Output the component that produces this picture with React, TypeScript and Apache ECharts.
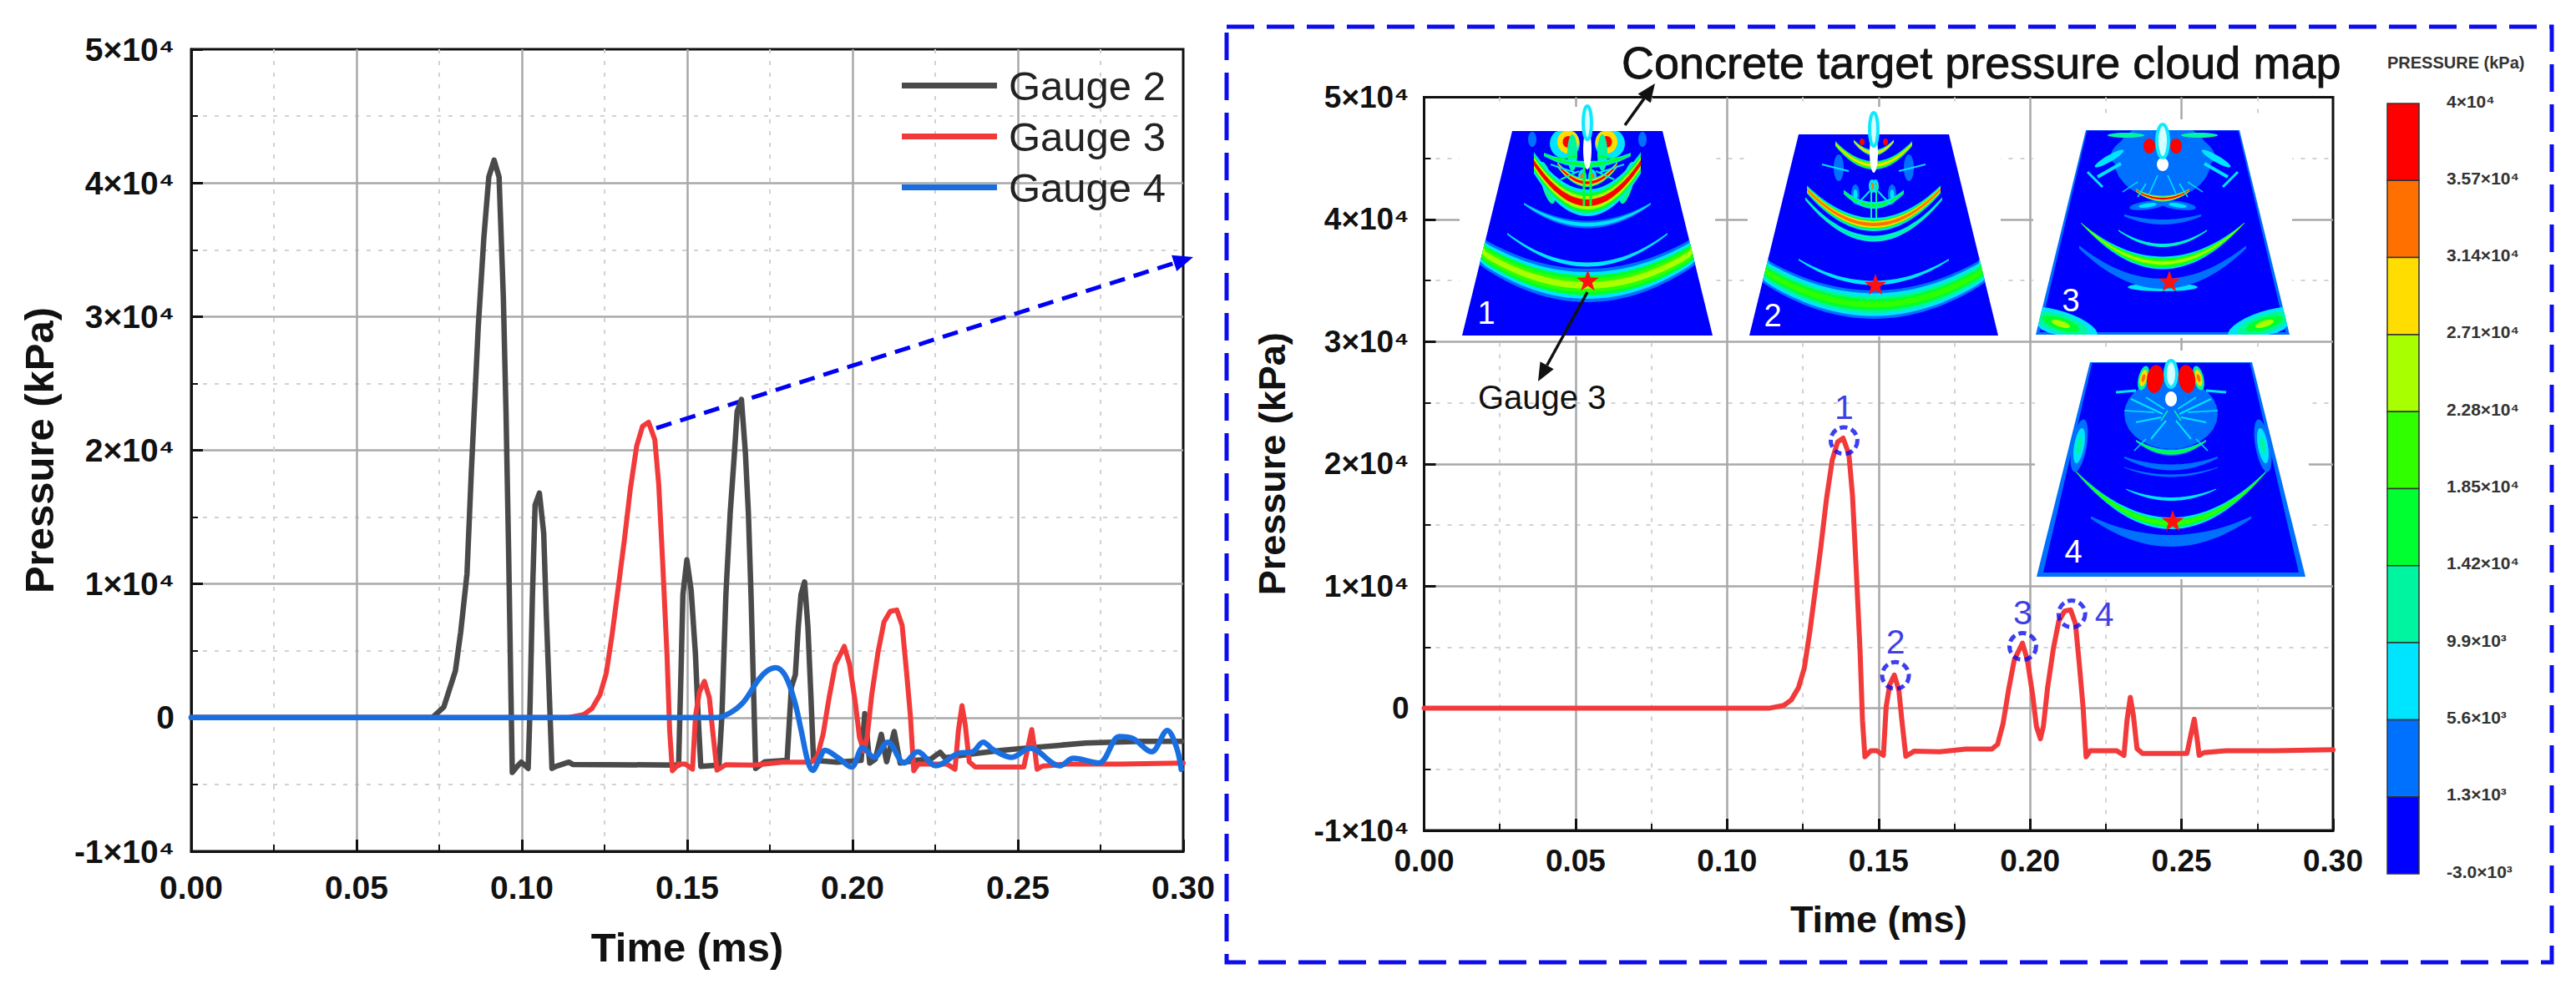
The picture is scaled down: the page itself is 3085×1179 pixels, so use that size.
import { useEffect, useRef } from "react";
import * as echarts from "echarts";

const FONT = "Liberation Sans";

const gauge2Time = [0, 0.0729, 0.0764, 0.0799, 0.0815, 0.0834, 0.0847, 0.0868, 0.0885, 0.09, 0.0916, 0.0931, 0.0944, 0.0952, 0.096, 0.0967, 0.0971, 0.0986, 0.0998, 0.1019, 0.1024, 0.1032, 0.104, 0.1053, 0.1066, 0.1074, 0.1083, 0.1091, 0.1104, 0.1142, 0.1154, 0.1474, 0.1481, 0.1487, 0.1499, 0.1512, 0.1525, 0.1533, 0.1541, 0.1596, 0.1605, 0.1617, 0.163, 0.1642, 0.1651, 0.1664, 0.1676, 0.1685, 0.1693, 0.1701, 0.1707, 0.1735, 0.1802, 0.1815, 0.1827, 0.1836, 0.1844, 0.1855, 0.1865, 0.1874, 0.1882, 0.1954, 0.2026, 0.2037, 0.2052, 0.2069, 0.2087, 0.2103, 0.2126, 0.2144, 0.219, 0.2237, 0.2265, 0.2279, 0.2368, 0.2452, 0.2537, 0.2621, 0.2705, 0.2789, 0.2873, 0.2995];
const gauge2Pressure = [0, 0, 800, 3500, 6400, 10760, 18300, 29200, 35900, 40450, 41700, 40450, 31400, 22900, 12300, 1700, -4100, -3640, -3330, -3800, 150, 9200, 15900, 16800, 13800, 7700, 1700, -3800, -3640, -3330, -3500, -3550, 3200, 9200, 11800, 9500, 4700, 150, -3640, -3550, 150, 9200, 15300, 19500, 22900, 23800, 19800, 15300, 9200, 1700, -3800, -3300, -3200, 2270, 3200, 6800, 9200, 10150, 6800, 1700, -3200, -3330, -3200, 300, -3400, -3100, -1250, -3300, -1040, -3400, -3200, -3100, -2600, -3000, -2700, -2450, -2250, -2080, -1900, -1830, -1770, -1770];

const gauge3Time = [0, 0.1138, 0.1187, 0.1212, 0.1236, 0.1255, 0.1273, 0.1291, 0.131, 0.1328, 0.1347, 0.1365, 0.1383, 0.1402, 0.1414, 0.1426, 0.1439, 0.1447, 0.1455, 0.1475, 0.1494, 0.1516, 0.1525, 0.1537, 0.1552, 0.1567, 0.1577, 0.159, 0.1617, 0.1702, 0.1788, 0.1874, 0.1893, 0.1911, 0.1929, 0.1948, 0.1975, 0.1991, 0.2009, 0.2021, 0.2034, 0.2044, 0.2058, 0.2077, 0.2095, 0.2114, 0.2134, 0.215, 0.2163, 0.2175, 0.2185, 0.2199, 0.2285, 0.231, 0.232, 0.2331, 0.2341, 0.2353, 0.2371, 0.2518, 0.2531, 0.2542, 0.2552, 0.2558, 0.2574, 0.2647, 0.2807, 0.3];
const gauge3Pressure = [0, 0, 230, 680, 1700, 3300, 6240, 9650, 13300, 17100, 20300, 21800, 22100, 20800, 17400, 11500, 4650, -1000, -3970, -3470, -3470, -3860, 110, 1930, 2720, 1480, -1000, -3930, -3520, -3560, -3340, -3340, -2950, -1250, 1480, 3970, 5330, 3970, 1020, -1480, -2500, -1480, 1700, 4880, 7150, 7950, 8050, 6900, 3500, 110, -3970, -3470, -3470, -3860, -1000, 900, -570, -3300, -3700, -3700, -2150, -900, -2600, -3860, -3630, -3470, -3470, -3400];

const gauge4Time = [0, 0.1588, 0.1629, 0.1671, 0.1713, 0.174, 0.1768, 0.1796, 0.1824, 0.1845, 0.1865, 0.1879, 0.19, 0.1917, 0.1955, 0.1997, 0.2031, 0.2065, 0.2107, 0.2156, 0.2197, 0.2252, 0.2322, 0.2363, 0.2395, 0.2426, 0.2481, 0.2537, 0.2627, 0.2668, 0.2745, 0.2807, 0.2848, 0.2904, 0.2952, 0.298, 0.2994];
const gauge4Pressure = [0, 0, 350, 1190, 2750, 3470, 3740, 3160, 1290, -1000, -3300, -3950, -3080, -2450, -2970, -3700, -2250, -2970, -1830, -3390, -2560, -3600, -2660, -2560, -1830, -2410, -2970, -2290, -3600, -3040, -3390, -1410, -1560, -2560, -960, -2250, -3870];

const peakNames = ["1", "2", "3", "4"];
const peakTime = [0.1386, 0.1556, 0.1976, 0.2138];
const peakPressure = [21900, 2680, 5060, 7720];

const legendNames = ["Gauge 2", "Gauge 3", "Gauge 4"];
const colorbarLabels = ["4×10⁴", "3.57×10⁴", "3.14×10⁴", "2.71×10⁴", "2.28×10⁴", "1.85×10⁴", "1.42×10⁴", "9.9×10³", "5.6×10³", "1.3×10³", "-3.0×10³"];
const colorbarBands = ["#ff0000", "#ff7000", "#ffdd00", "#a8ff00", "#30ff00", "#00ff30", "#00f5a0", "#00e5ff", "#0070ff", "#0000ff"];

const zip = (xs: number[], ys: number[]) => xs.map((x, i) => [x, ys[i]]);

// level 0 = deep blue ... level 9 = red
const levels = [...colorbarBands].reverse();

type Inset = {
  label: string; labelX: number; labelY: number;
  box: number[]; cx: number; top: number; bottom: number; topHalf: number; botHalf: number; rim: number;
  star: number[];
  // half, y0, sag, thick, taper, levels
  waves: any[];
  // dx, y, rx, ry, rot, levels  (mirrored when dx != 0)
  blobs: any[];
  // dx1, y1, dx2, y2, width, level (mirrored)
  rays: number[][];
  // jet: cyan y, ry, rx, white y, white ry, white rx
  jet: number[];
};

const insets: Inset[] = [
  {
    label: "1", labelX: 1780, labelY: 375, box: [1748, 128, 2054, 403],
    cx: 1901, top: 157, bottom: 402, topHalf: 90, botHalf: 150, rim: 0, star: [1901.5, 337],
    waves: [
      [130, 185, 42, 40, 0.15, [1, 2, 4, 5, 6]],
      [96, 160, 37, 5, 0.6, [2]],
      [76, 112, 25, 9, 0.7, [1, 2]],
      [64, 86, 48, 32, 0.2, [2, 4, 6, 9]],
      [36, 62, 22, 10, 0.3, [3, 7, 9]],
      [52, 40, 12, 8, 0.5, [2, 4]],
    ],
    blobs: [
      [66, 10, 5, 9, 0, [1]],
      [27, 15, 18, 18, 0, [2, 4]],
      [23, 13, 13, 14, 0, [7, 9]],
      [18, 26, 6, 22, 0, [3]],
      [6, 55, 5, 9, 0, [2, 8]],
      [48, 62, 7, 26, 15, [3, 5, 7]],
    ],
    rays: [[12, 30, 42, 34, 2, 4], [10, 48, 32, 58, 2, 3], [4, 40, 4, 90, 3, 4], [44, 40, 14, 50, 2, 2]],
    jet: [-10, 20, 5, 22, 24, 5],
  },
  {
    label: "2", labelX: 2123, labelY: 378, box: [2093, 128, 2396, 403],
    cx: 2244, top: 161, bottom: 402, topHalf: 90, botHalf: 149, rim: 0, star: [2246, 342],
    waves: [
      [134, 204, 42, 34, 0.1, [1, 2, 3, 4, 5]],
      [90, 178, 28, 5, 0.6, [2]],
      [82, 125, 48, 7, 0.5, [2, 3]],
      [80, 108, 42, 16, 0.4, [2, 4, 7, 8]],
      [36, 85, 16, 8, 0.4, [2, 4]],
      [46, 37, 26, 10, 0.4, [3, 5, 7]],
      [24, 22, 14, 7, 0.5, [3, 7]],
    ],
    blobs: [
      [42, 40, 6, 16, 0, [1]],
      [14, 9, 3, 4, 0, [9]],
      [2, 62, 4, 8, 0, [2, 8]],
      [22, 72, 5, 12, 0, [1, 2]],
    ],
    rays: [[62, 36, 30, 44, 2, 2], [5, 68, 20, 84, 2, 2], [3, 60, 3, 100, 2, 3]],
    jet: [-6, 20, 5, 22, 24, 5],
  },
  {
    label: "3", labelX: 2480, labelY: 360, box: [2435, 143, 2745, 405],
    cx: 2590, top: 156, bottom: 401, topHalf: 92, botHalf: 152, rim: 3, star: [2598, 338],
    waves: [
      [100, 184, 44, 12, 0.7, [1]],
      [98, 159, 48, 15, 0.95, [2, 4, 5, 6]],
      [53, 138, 18, 4, 0.6, [2, 3]],
      [46, 110, 8, 6, 0.6, [1]],
      [32, 82, 10, 7, 0.5, [3, 7, 9]],
    ],
    blobs: [
      [0, 36, 58, 46, 0, [1]],
      [36, 24, 28, 16, 24, [1]],
      [18, 90, 22, 5, 8, [1, 2]],
      [0, 188, 42, 5, 0, [2]],
      [64, 34, 20, 4, 30, [2]],
      [44, 6, 22, 3, 0, [3]],
      [16, 19, 7, 9, 0, [9]],
      [-122, 232, 46, 15, 18, [2, 3, 4, 6]],
    ],
    rays: [[72, 68, 90, 50, 3, 2], [20, 64, 30, 80, 1.5, 2], [50, 40, 78, 56, 4, 2], [6, 54, 16, 76, 1.5, 2], [30, 62, 48, 74, 1.5, 2]],
    jet: [13, 20, 7, 41, 8, 7],
  },
  {
    label: "4", labelX: 2483, labelY: 661, box: [2437, 420, 2765, 694],
    cx: 2600, top: 434, bottom: 691, topHalf: 97, botHalf: 161, rim: 5, star: [2602, 625],
    waves: [
      [96, 214, 28, 14, 0.8, [1]],
      [114, 193, 62, 14, 0.9, [2, 4, 5]],
      [54, 164, 12, 4, 0.7, [2]],
      [56, 136, 10, 3, 0.7, [1]],
      [56, 126, 12, 7, 0.7, [1]],
      [42, 108, 14, 8, 0.7, [1, 3, 4]],
    ],
    blobs: [
      [0, 62, 56, 42, 0, [1]],
      [0, 212, 38, 4, 0, [2]],
      [110, 100, 9, 32, -10, [1, 2, 3]],
      [33, 19, 6, 15, -14, [3, 7, 8]],
      [19, 20, 10, 17, -8, [9]],
    ],
    rays: [[10, 62, 48, 44, 2, 2], [12, 66, 42, 72, 2, 2], [6, 70, 24, 92, 2, 2], [30, 92, 44, 106, 1.5, 2], [42, 34, 66, 36, 3, 2], [4, 58, 12, 70, 1.5, 3], [20, 60, 56, 58, 1.5, 2], [8, 56, 30, 42, 1.5, 2]],
    jet: [14, 16, 7, 44, 9, 7],
  },
];

function insetElements(ins: Inset) {
  const out: any[] = [];
  const edge = (y: number) =>
    ins.topHalf + ((ins.botHalf - ins.topHalf) * (y - ins.top)) / (ins.bottom - ins.top);
  const clampPt = (x: number, y: number) => {
    const yy = Math.min(ins.bottom, Math.max(ins.top, y));
    const e = edge(yy);
    return [Math.min(ins.cx + e, Math.max(ins.cx - e, x)), yy];
  };
  const poly = (points: number[][], fill: string) =>
    out.push({ type: "polygon", shape: { points }, style: { fill } });

  // white backing of the pasted picture, hides the grid behind it
  out.push({
    type: "rect",
    shape: { x: ins.box[0], y: ins.box[1], width: ins.box[2] - ins.box[0], height: ins.box[3] - ins.box[1] },
    style: { fill: "#fff" },
  });
  const trapezoid = (inner: number, fill: string) =>
    poly(
      [
        [ins.cx - ins.topHalf + inner * 0.5, ins.top + inner * 0.2],
        [ins.cx + ins.topHalf - inner * 0.5, ins.top + inner * 0.2],
        [ins.cx + ins.botHalf - inner * 1.6, ins.bottom - inner],
        [ins.cx - ins.botHalf + inner * 1.6, ins.bottom - inner],
      ],
      fill,
    );
  if (ins.rim) {
    trapezoid(0, levels[1]);
    trapezoid(ins.rim, levels[0]);
  } else {
    trapezoid(0, levels[0]);
  }

  for (const [dx, y, rx, ry, rot, lv] of ins.blobs) {
    const sides = dx === 0 ? [1] : [1, -1];
    for (const side of sides) {
      lv.forEach((l: number, i: number) => {
        const k = 1 - i / lv.length;
        const a = ((side * rot) * Math.PI) / 180;
        const pts: number[][] = [];
        for (let n = 0; n < 28; n++) {
          const th = (n / 28) * Math.PI * 2;
          const ex = rx * k * Math.cos(th);
          const ey = ry * k * Math.sin(th);
          pts.push(
            clampPt(
              ins.cx + side * dx + ex * Math.cos(a) - ey * Math.sin(a),
              ins.top + y + ex * Math.sin(a) + ey * Math.cos(a),
            ),
          );
        }
        poly(pts, levels[l]);
      });
    }
  }

  for (const [half, y0, sag, thick, taper, lv] of ins.waves) {
    lv.forEach((l: number, i: number) => {
      const th = thick * (1 - i / lv.length);
      const upper: number[][] = [];
      const lower: number[][] = [];
      for (let n = -16; n <= 16; n++) {
        const s = n / 16;
        const t = th * (1 - taper * s * s);
        const yc = ins.top + y0 - sag * s * s;
        const x = ins.cx + s * half;
        upper.push(clampPt(x, yc - t / 2));
        lower.unshift(clampPt(x, yc + t / 2));
      }
      poly([...upper, ...lower], levels[l]);
    });
  }

  for (const [x1, y1, x2, y2, w, l] of ins.rays) {
    for (const side of [1, -1]) {
      out.push({
        type: "line",
        shape: { x1: ins.cx + side * x1, y1: ins.top + y1, x2: ins.cx + side * x2, y2: ins.top + y2 },
        style: { stroke: levels[l], lineWidth: w },
      });
    }
  }

  // the jet in the crater: cyan above the surface, white below it
  const [cy, cry, crx, wy, wry, wrx] = ins.jet;
  out.push({
    type: "ellipse",
    shape: { cx: ins.cx, cy: ins.top + wy, rx: wrx, ry: wry },
    style: { fill: "#fff" },
  });
  out.push({
    type: "ellipse",
    shape: { cx: ins.cx, cy: ins.top + cy, rx: crx, ry: cry },
    style: { fill: "#d8ffff", stroke: "#10e8ff", lineWidth: 4 },
  });

  // gauge marker
  const star: number[][] = [];
  for (let n = 0; n < 10; n++) {
    const r = n % 2 ? 5.5 : 14;
    const a = -Math.PI / 2 + (n * Math.PI) / 5;
    star.push([ins.star[0] + r * Math.cos(a), ins.star[1] + r * Math.sin(a)]);
  }
  poly(star, "#ff1010");

  out.push({
    type: "text",
    x: ins.labelX,
    y: ins.labelY,
    style: { text: ins.label, fill: "#fff", font: `38px "${FONT}"`, textAlign: "center", textVerticalAlign: "middle" },
  });
  return out;
}

function arrow(x1: number, y1: number, x2: number, y2: number, color: string, width: number, size: number, dash?: number[]) {
  const a = Math.atan2(y2 - y1, x2 - x1);
  const bx = x2 - size * Math.cos(a);
  const by = y2 - size * Math.sin(a);
  const nx = -Math.sin(a) * size * 0.42;
  const ny = Math.cos(a) * size * 0.42;
  return [
    {
      type: "line",
      shape: { x1, y1, x2: bx, y2: by },
      style: { stroke: color, lineWidth: width, lineDash: dash },
    },
    {
      type: "polygon",
      shape: { points: [[x2, y2], [bx + nx, by + ny], [bx - nx, by - ny]] },
      style: { fill: color },
    },
  ];
}

function colorbar() {
  const x = 2859;
  const w = 38;
  const y0 = 124;
  const h = 92.3;
  const out: any[] = [];
  colorbarBands.forEach((fill, i) => {
    out.push({
      type: "rect",
      shape: { x, y: y0 + i * h, width: w, height: h },
      style: { fill, stroke: "#333", lineWidth: 1.5 },
    });
  });
  colorbarLabels.forEach((text, i) => {
    out.push({
      type: "text",
      x: 2930,
      y: y0 + i * h - 3,
      style: { text, fill: "#333", font: `bold 21px "${FONT}"`, textVerticalAlign: "middle" },
    });
  });
  out.push({
    type: "text",
    x: 2859,
    y: 75,
    style: { text: "PRESSURE (kPa)", fill: "#333", font: `bold 20px "${FONT}"`, textVerticalAlign: "middle" },
  });
  return out;
}

const pressureLabel = (v: number) => (v === 0 ? "0" : `${v / 10000}×10⁴`);

function xAxisFor(gridIndex: number, fontSize: number, nameSize: number, nameGap: number, margin: number) {
  return {
    gridIndex,
    type: "value",
    min: 0,
    max: 0.3,
    interval: 0.05,
    name: "Time (ms)",
    nameLocation: "middle",
    nameGap,
    nameTextStyle: { color: "#111", fontFamily: FONT, fontWeight: "bold", fontSize: nameSize },
    axisLine: { show: true, onZero: false, lineStyle: { color: "#111", width: 3 } },
    axisTick: { show: true, inside: true, length: 14, lineStyle: { color: "#111", width: 3 } },
    minorTick: { show: true, splitNumber: 2, length: 8, lineStyle: { color: "#111", width: 2 } },
    axisLabel: { color: "#111", fontFamily: FONT, fontWeight: "bold", fontSize, margin, showMaxLabel: true, formatter: (v: number) => v.toFixed(2) },
    splitLine: { show: true, showMinLine: false, showMaxLine: false, lineStyle: { color: "#a8a8a8", width: 2.5 } },
    minorSplitLine: { show: true, lineStyle: { color: "#d2d2d2", width: 2, type: [5, 9] } },
  };
}

function yAxisFor(gridIndex: number, fontSize: number, nameSize: number, nameGap: number, margin: number) {
  return {
    gridIndex,
    type: "value",
    min: -10000,
    max: 50000,
    interval: 10000,
    name: "Pressure (kPa)",
    nameLocation: "middle",
    nameGap,
    nameTextStyle: { color: "#111", fontFamily: FONT, fontWeight: "bold", fontSize: nameSize },
    axisLine: { show: true, onZero: false, lineStyle: { color: "#111", width: 3 } },
    axisTick: { show: true, inside: true, length: 14, lineStyle: { color: "#111", width: 3 } },
    minorTick: { show: true, splitNumber: 2, length: 8, lineStyle: { color: "#111", width: 2 } },
    axisLabel: { color: "#111", fontFamily: FONT, fontWeight: "bold", fontSize, margin, formatter: pressureLabel },
    splitLine: { show: true, showMinLine: false, showMaxLine: false, lineStyle: { color: "#a8a8a8", width: 2.5 } },
    minorSplitLine: { show: true, lineStyle: { color: "#d2d2d2", width: 2, type: [5, 9] } },
  };
}

function lineSeries(name: string, axis: number, data: number[][], color: string, width: number, z: number, smooth = 0) {
  return {
    name,
    type: "line",
    xAxisIndex: axis,
    yAxisIndex: axis,
    data,
    showSymbol: false,
    symbol: "none",
    smooth,
    lineStyle: { color, width, join: "round", cap: "round" },
    itemStyle: { color },
    z,
  };
}

export default function App() {
  const ref = useRef<HTMLDivElement>(null);

  useEffect(() => {
    if (!ref.current) return;
    document.body.style.margin = "0";
    const chart = echarts.init(ref.current, null, { renderer: "svg" });

    const elements: any[] = [
      {
        type: "rect",
        shape: { x: 1469, y: 32, width: 1587, height: 1121 },
        style: { fill: "none", stroke: "#0c0cee", lineWidth: 5, lineDash: [33, 15] },
      },
      ...arrow(786, 513, 1429, 308, "#0000f5", 5, 24, [19, 11]),
      ...insets.flatMap(insetElements),
      ...arrow(1946, 150, 1982, 100, "#111", 3.5, 22),
      ...arrow(1901, 350, 1842, 457, "#111", 3.5, 22),
      {
        type: "text",
        x: 1942,
        y: 75,
        style: { text: "Concrete target pressure cloud map", fill: "#111", stroke: "#111", lineWidth: 0.8, font: `54px "${FONT}"`, textVerticalAlign: "middle" },
      },
      {
        type: "text",
        x: 1770,
        y: 476,
        style: { text: "Gauge 3", fill: "#111", font: `40px "${FONT}"`, textVerticalAlign: "middle" },
      },
      ...colorbar(),
    ];

    chart.setOption({
      animation: false,
      backgroundColor: "#fff",
      grid: [
        { left: 229, top: 59, width: 1188, height: 961, show: true, borderColor: "#111", borderWidth: 3, backgroundColor: "transparent" },
        { left: 1705.5, top: 116.5, width: 1088.5, height: 878.5, show: true, borderColor: "#111", borderWidth: 3, backgroundColor: "transparent" },
      ],
      xAxis: [xAxisFor(0, 39, 49, 90, 24), xAxisFor(1, 37, 45, 84, 18)],
      yAxis: [yAxisFor(0, 39, 49, 158, 20), yAxisFor(1, 37, 45, 160, 18)],
      legend: {
        data: legendNames,
        icon: "rect",
        orient: "vertical",
        left: 1075,
        top: 73,
        itemWidth: 114,
        itemHeight: 7,
        itemGap: 12,
        textStyle: { color: "#222", fontFamily: FONT, fontSize: 49, padding: [0, 0, 0, 9] },
      },
      series: [
        lineSeries("Gauge 2", 0, zip(gauge2Time, gauge2Pressure), "#4a4a4a", 6.5, 3),
        lineSeries("Gauge 3", 0, zip(gauge3Time, gauge3Pressure), "#f23a3a", 6, 4),
        lineSeries("Gauge 4", 0, zip(gauge4Time, gauge4Pressure), "#1a6fe0", 6.5, 5, 0.35),
        lineSeries("Gauge 3 detail", 1, zip(gauge3Time, gauge3Pressure), "#f23a3a", 6, 4),
        {
          name: "Peaks",
          type: "scatter",
          xAxisIndex: 1,
          yAxisIndex: 1,
          symbolSize: 32,
          z: 6,
          itemStyle: { color: "transparent", borderColor: "#0c0cee", borderWidth: 5, borderType: [9, 5] },
          label: { show: true, position: "top", distance: 1, color: "#0a0ae0", fontFamily: FONT, fontSize: 41, formatter: (p: any) => p.data.name },
          data: peakNames.map((name, i) => ({
            name,
            value: [peakTime[i], peakPressure[i]],
            label: name === "4" ? { position: "right", distance: 9 } : undefined,
          })),
        },
      ],
      graphic: { z: 10, elements: elements.map((el, i) => ({ ...el, silent: true, z2: i })) },
    });

    return () => chart.dispose();
  }, []);

  return <div ref={ref} style={{ width: 3085, height: 1179 }} />;
}
